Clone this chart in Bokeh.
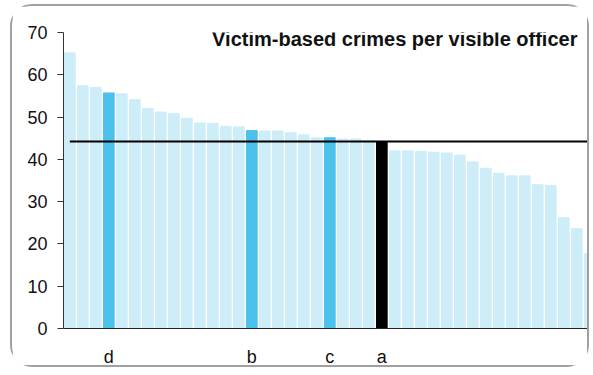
from bokeh.plotting import figure
from bokeh.models import FixedTicker, Label, ColumnDataSource, Range1d
from bokeh.embed import file_html
from bokeh.resources import INLINE

# ---- data ----
values = [65.2, 57.4, 57.0, 55.7, 55.5, 54.1, 52.0, 51.2, 50.8, 49.7,
          48.6, 48.5, 47.8, 47.7, 46.8, 46.7, 46.7, 46.3, 45.8, 45.1,
          45.1, 44.8, 44.8, 44.4, 44.2, 42.0, 42.0, 41.9, 41.7, 41.5,
          41.0, 39.4, 37.9, 36.7, 36.1, 36.1, 34.0, 33.8, 26.2, 23.6, 17.7]
highlight_labels = {3: "d", 14: "b", 20: "c", 24: "a"}
highlight_kind = {3: "dark", 14: "dark", 20: "dark", 24: "black"}
average_value = 44.2
title_text = "Victim-based crimes per visible officer"
y_ticks = [0, 10, 20, 30, 40, 50, 60, 70]

LIGHT = "#cdedf9"
DARK = "#4bc1eb"
BLACK = "#000000"

xs = list(range(len(values)))
colors = []
for i in xs:
    k = highlight_kind.get(i)
    colors.append(DARK if k == "dark" else BLACK if k == "black" else LIGHT)

src = ColumnDataSource(dict(x=xs, top=values, color=colors))

p = figure(width=579, height=363, output_backend="svg", toolbar_location=None,
           x_range=Range1d(-0.488, 40.13), y_range=Range1d(0, 70),
           min_border_left=51, min_border_right=0, min_border_top=26,
           min_border_bottom=41)
p.styles = {"border": "2px solid #a0a0a0", "border-radius": "22px",
            "margin-left": "10px", "margin-top": "4px"}
p.outline_line_color = None
p.xgrid.grid_line_color = None
p.ygrid.grid_line_color = None
p.background_fill_color = "white"
p.border_fill_color = "white"

p.vbar(x="x", top="top", width=0.82, bottom=0, color="color", source=src)

p.line(x=[0, len(values) - 1], y=[average_value, average_value],
       line_color="black", line_width=2)

# y axis
ya = p.yaxis[0]
ya.ticker = FixedTicker(ticks=y_ticks)
ya.major_label_text_font = "Liberation Sans"
ya.major_label_text_font_size = "18px"
ya.major_label_text_color = "#111111"
ya.axis_line_color = "#333333"
ya.major_tick_line_color = "#333333"
ya.major_tick_in = 0
ya.major_tick_out = 6
ya.minor_tick_line_color = None
ya.major_label_standoff = 10

# x axis
xa = p.xaxis[0]
xa.ticker = FixedTicker(ticks=list(highlight_labels.keys()))
xa.major_label_overrides = {k: v for k, v in highlight_labels.items()}
xa.major_label_text_font = "Liberation Sans"
xa.major_label_text_font_size = "18px"
xa.major_label_text_color = "#111111"
xa.axis_line_color = "#222222"
xa.major_tick_line_color = None
xa.major_tick_in = 0
xa.major_tick_out = 0
xa.minor_tick_line_color = None
xa.major_label_standoff = 18

p.add_layout(Label(x=39.05, y=68.4, text=title_text, text_align="right",
                   text_baseline="alphabetic", text_font="Liberation Sans",
                   text_font_style="bold", text_font_size="20px",
                   text_color="#111111"))

open("out.html", "w").write(file_html(p, INLINE))
